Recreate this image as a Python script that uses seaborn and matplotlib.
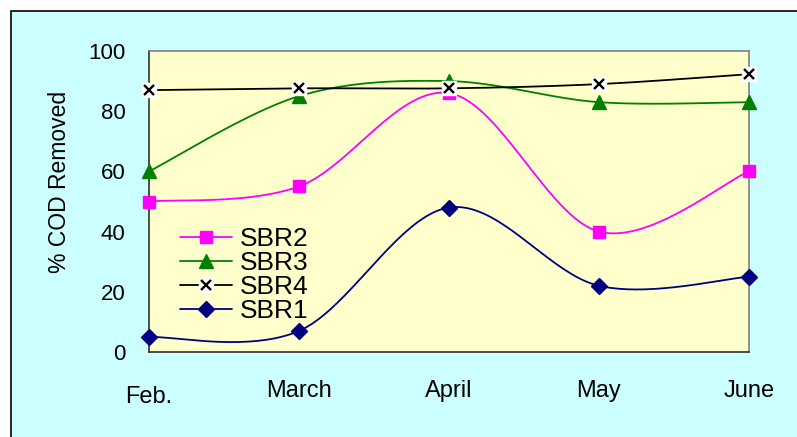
import numpy as np
import pandas as pd
import matplotlib
matplotlib.use("Agg")
import matplotlib.pyplot as plt
import matplotlib.transforms as mtransforms
from matplotlib.lines import Line2D
from matplotlib.patches import Rectangle
import seaborn as sns

months = ["Feb.", "March", "April", "May", "June"]
sbr1 = [5, 7, 48, 22, 25]
sbr2 = [50, 55, 86, 40, 60]
sbr3 = [60, 85, 90, 83, 83]
sbr4 = [87, 87.6, 87.6, 89, 92.3]
y_ticks = [0, 20, 40, 60, 80, 100]

sns.set_style("white")
plt.rcParams['font.family'] = ['Liberation Sans', 'DejaVu Sans']
plt.rcParams['text.color'] = 'black'
plt.rcParams['xtick.color'] = 'black'
plt.rcParams['ytick.color'] = 'black'
plt.rcParams['xtick.labelcolor'] = 'black'
plt.rcParams['ytick.labelcolor'] = 'black'


def smooth(xs, ys, n=40):
    """Excel-like smoothed line: cubic Bezier segments (Catmull-Rom tangents)."""
    p = np.column_stack([xs, ys]).astype(float)
    ext = np.vstack([p[0], p, p[-1]])
    out = []
    for i in range(len(p) - 1):
        p0, p1, p2, p3 = ext[i], ext[i + 1], ext[i + 2], ext[i + 3]
        c1 = p1 + (p2 - p0) / 6.0
        c2 = p2 - (p3 - p1) / 6.0
        t = np.linspace(0, 1, n)[:, None]
        seg = ((1 - t) ** 3) * p1 + 3 * ((1 - t) ** 2) * t * c1 + 3 * (1 - t) * t ** 2 * c2 + t ** 3 * p2
        out.append(seg if i == 0 else seg[1:])
    return np.vstack(out)


fig = plt.figure(figsize=(7.97, 4.37), dpi=100)
fig.patch.set_facecolor("white")
fig.patches.append(Rectangle((10.5 / 797, -0.1), 1.2, 1 + 0.1 - 11 / 437,
                             transform=fig.transFigure, facecolor="#CCFFFF",
                             edgecolor="black", linewidth=1.2, zorder=-10))

ax = fig.add_axes([149 / 797, 1 - 352 / 437, 600 / 797, 301 / 437])
ax.set_facecolor("#FFFFCC")

xs = np.arange(len(months))
series = [
    ("SBR1", sbr1, "#000080", "D", 8, "#000080"),
    ("SBR2", sbr2, "#FF00FF", "s", 8.5, "#FF00FF"),
    ("SBR3", sbr3, "#008000", "^", 9.5, "#008000"),
    ("SBR4", sbr4, "#000000", "x", 6.5, "#000000"),
]
handles = {}
for z, (name, vals, col, mk, ms, fc) in enumerate(series):
    curve = smooth(xs, vals)
    df = pd.DataFrame({"x": curve[:, 0], "y": curve[:, 1]})
    sns.lineplot(data=df, x="x", y="y", ax=ax, color=col, linewidth=1.3,
                 sort=False, estimator=None, zorder=3 + 2 * z)
    if mk == "x":
        ax.plot(xs, vals, linestyle="none", marker="s", markersize=9.5,
                markerfacecolor="white", markeredgecolor="white", zorder=4 + 2 * z,
                clip_on=False)
        ax.plot(xs, vals, linestyle="none", marker="x", markersize=ms,
                markeredgecolor=col, markeredgewidth=1.7, zorder=4.5 + 2 * z,
                clip_on=False)
        handles[name] = (Line2D([], [], color=col, lw=1.3, marker="s", markersize=9.5,
                                markerfacecolor="white", markeredgecolor="white"),
                         Line2D([], [], color=col, lw=0, marker="x", markersize=ms,
                                markeredgecolor=col, markeredgewidth=1.7))
    else:
        ax.plot(xs, vals, linestyle="none", marker=mk, markersize=ms,
                markerfacecolor=fc, markeredgecolor=col, zorder=4 + 2 * z,
                clip_on=False)
        handles[name] = Line2D([], [], color=col, lw=1.3, marker=mk, markersize=ms,
                               markerfacecolor=fc, markeredgecolor=col)

ax.set_xlim(0, 4)
ax.set_ylim(0, 100)
ax.set_yticks(y_ticks)
ax.set_xticks(xs)
ax.set_xticklabels(months, fontsize=17)
ax.set_yticklabels([str(v) for v in y_ticks], fontsize=16)
ax.tick_params(axis="both", direction="out", length=8, width=1, color="#303030")
ax.tick_params(axis="x", pad=12)
ax.tick_params(axis="y", pad=9)
ax.set_xlabel("")
ax.set_ylabel("")
for side in ["top", "right"]:
    ax.spines[side].set_color("#808080")
    ax.spines[side].set_linewidth(1.2)
for side in ["left", "bottom"]:
    ax.spines[side].set_color("#303030")
    ax.spines[side].set_linewidth(1.2)

# Feb. label sits slightly lower in the original
lab0 = ax.get_xticklabels()[0]
lab0.set_transform(lab0.get_transform() +
                   mtransforms.ScaledTranslation(0, -6 / 100, fig.dpi_scale_trans))

fig.text(59 / 797, 1 - 182 / 437, "% COD Removed", rotation=90, fontsize=16.5,
         ha="center", va="center")

order = ["SBR2", "SBR3", "SBR4", "SBR1"]
leg = ax.legend([handles[k] for k in order], order, loc="upper left",
                bbox_to_anchor=((180 - 149) / 600, (352 - 227) / 301),
                frameon=False, fontsize=19, borderpad=0, borderaxespad=0,
                handlelength=1.97, handletextpad=0.28, labelspacing=0.0)
leg.set_zorder(20)

fig.savefig("out.png", dpi=100, facecolor=fig.get_facecolor())
